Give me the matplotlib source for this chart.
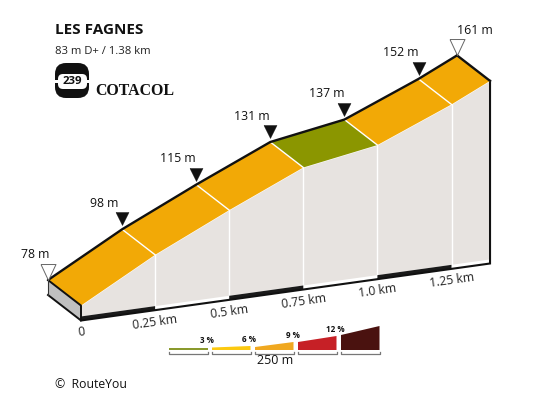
import matplotlib
matplotlib.use('Agg')
import matplotlib.pyplot as plt
from matplotlib.patches import FancyBboxPatch, Polygon
from matplotlib.transforms import Affine2D

# --- DATA ---
TITLE = 'LES FAGNES'
SUBTITLE = '83 m D+ / 1.38 km'
COL_NUMBER = '239'
distances = [0, 0.25, 0.5, 0.75, 1.0, 1.25, 1.38]
elevations = [78, 98, 115, 131, 137, 152, 161]
segment_classes = [2, 2, 2, 0, 2, 2]
tick_km = [0, 0.25, 0.5, 0.75, 1.0, 1.25]
tick_labels = ['0', '0.25 km', '0.5 km', '0.75 km', '1.0 km', '1.25 km']
legend_labels = ['3 %', '6 %', '9 %', '12 %', '']
legend_left = [2.5, 2.5, 3, 8, 15]
legend_right = [2.5, 4, 8, 14, 24]
legend_colors = ['#8a9a2d', '#fcc90f', '#f0a820', '#c62026', '#4a120f']
slope_colors = ['#8b9600', '#fcc90f', '#f2a906', '#c62026', '#4a120f']

# --- CONFIG ---
BASE_ELEV = 70.6
FONT = 'Open Sans'
WALL = '#e7e3e0'

fig = plt.figure(figsize=(5.5, 4), dpi=100)
ax = fig.add_axes([0, 0, 1, 1])
ax.set_xlim(0, 550)
ax.set_ylim(400, 0)
ax.axis('off')

# (km, m) -> pixels, oblique view. back = ridge side, front = wall side
project = Affine2D.from_values(296.4, -41.3, 0, -2.02, 48, 437.6)
back = project + ax.transData
front = project + Affine2D().translate(33, 25.5) + ax.transData
d_end = distances[-1]

# wall
wall_x = distances + [d_end, 0]
wall_y = elevations + [BASE_ELEV + 2, BASE_ELEV + 2]
ax.add_patch(Polygon(list(zip(wall_x, wall_y)), closed=True, fc=WALL, ec='none', transform=front, zorder=1))
for d, e in zip(distances[1:-1], elevations[1:-1]):
    ax.plot([d, d], [BASE_ELEV + 2, e], color='white', lw=1, transform=front, zorder=2)

# black stripes every second 250 m on the base
for i in range(0, len(tick_km), 2):
    d0 = tick_km[i]
    d1 = tick_km[i + 1] if i + 1 < len(tick_km) else d_end
    pts = [(d0, BASE_ELEV), (d1, BASE_ELEV), (d1, BASE_ELEV + 2), (d0, BASE_ELEV + 2)]
    ax.add_patch(Polygon(pts, closed=True, fc='#1a1a1a', ec='none', transform=front, zorder=2))
ax.plot([0, d_end, d_end], [BASE_ELEV, BASE_ELEV, elevations[-1]], color='#111111', lw=1.5,
        transform=front, zorder=3, solid_joinstyle='miter')

# top surface, one slab per segment
for i, cl in enumerate(segment_classes):
    p0 = back.transform((distances[i], elevations[i]))
    p1 = back.transform((distances[i + 1], elevations[i + 1]))
    p2 = front.transform((distances[i + 1], elevations[i + 1]))
    p3 = front.transform((distances[i], elevations[i]))
    ax.add_patch(Polygon([p0, p1, p2, p3], closed=True, fc=slope_colors[cl], ec='none',
                         transform=None, zorder=4))
    if i > 0:
        ax.plot([p0[0], p3[0]], [p0[1], p3[1]], color='white', lw=1, transform=None, zorder=5)
ax.plot(distances, elevations, color='white', lw=0.8, transform=front, zorder=3.5)

# left end of the block
e0 = elevations[0]
end_pts = [back.transform((0, e0)), front.transform((0, e0)), front.transform((0, BASE_ELEV)),
           back.transform((0, BASE_ELEV))]
ax.add_patch(Polygon(end_pts, closed=True, fc='#c0c0c0', ec='none', transform=None, zorder=5))
ax.plot([end_pts[3][0], end_pts[2][0], end_pts[1][0], end_pts[0][0]],
        [end_pts[3][1], end_pts[2][1], end_pts[1][1], end_pts[0][1]], color='#111111', lw=1.4,
        transform=None, zorder=6)
ax.plot([end_pts[0][0], end_pts[3][0]], [end_pts[0][1], end_pts[3][1]], color='#333333', lw=0.8,
        transform=None, zorder=6)

# ridge
ax.plot(distances, elevations, color='#111111', lw=1.7, transform=back, zorder=7, solid_capstyle='round')
p_top = back.transform((d_end, elevations[-1]))
p_low = front.transform((d_end, elevations[-1]))
ax.plot([p_top[0], p_low[0]], [p_top[1], p_low[1]], color='#111111', lw=1.7, transform=None, zorder=7)

# markers: hollow ones touch the ridge, black ones float a little above it
tri_end = [(-7.5, 16), (7.5, 16), (0, 0), (-7.5, 16)]
tri_mid = [(-6.5, 17), (6.5, 17), (0, 4), (-6.5, 17)]
for i, (d, e) in enumerate(zip(distances, elevations)):
    ends = i == 0 or i == len(distances) - 1
    if ends:
        ax.plot([d], [e], marker=tri_end, ms=23, mfc='white', mec='#666666', mew=0.7, ls='none',
                transform=back, zorder=8, clip_on=False)
    else:
        ax.plot([d], [e], marker=tri_mid, ms=24.5, mfc='#111111', mec='#111111', mew=0.3, ls='none',
                transform=back, zorder=8, clip_on=False)
    if i == 0:
        off = (-13, 26)
    elif i == len(distances) - 1:
        off = (18, 25)
    else:
        off = (-18, 26)
    ax.annotate(f'{e} m', (d, e), xycoords=back, xytext=off, textcoords='offset pixels', ha='center', va='center',
                fontsize=8.8, family=FONT, color='#111111', zorder=9)

# distance labels
for d, lab in zip(tick_km, tick_labels):
    ax.annotate(lab, (d, BASE_ELEV), xycoords=front, xytext=(0, -12), textcoords='offset pixels', ha='center',
                va='center', rotation=8, rotation_mode='anchor', fontsize=8.8, family=FONT, color='#222222')

# header
ax.text(55, 30, TITLE, fontsize=11, fontweight='bold', family=FONT, color='#111111', va='center')
ax.text(55, 52, SUBTITLE, fontsize=8.1, family=FONT, color='#222222', va='center')
ax.add_patch(FancyBboxPatch((55, 63), 34, 35, boxstyle='round,pad=0,rounding_size=11', fc='#111111', ec='none', zorder=2))
ax.add_patch(FancyBboxPatch((54, 79.5), 36, 3, boxstyle='square,pad=0', fc='white', ec='none', zorder=3))
ax.add_patch(FancyBboxPatch((58, 74), 29, 15, boxstyle='round,pad=0,rounding_size=5', fc='white', ec='none', zorder=4))
ax.text(72, 81.5, COL_NUMBER, fontsize=8.2, fontweight='bold', family=FONT, color='#111111', ha='center',
        va='center', zorder=5)
ax.text(95, 91, 'COTACOL', fontsize=11.4, fontweight='bold', family='Liberation Serif', color='#111111', va='center')

# slope legend
for i, col in enumerate(legend_colors):
    x0 = 169 + 43 * i
    x1 = x0 + 38.5
    ax.add_patch(Polygon([(x0, 350), (x1, 350), (x1, 350 - legend_right[i]), (x0, 350 - legend_left[i])],
                         closed=True, fc=col, ec='none'))
    ax.plot([x0, x0, x1, x1], [352, 353.5, 353.5, 352], color='#777777', lw=0.9)
    if legend_labels[i]:
        ax.text(x1 - 1, 350 - legend_right[i] - 7, legend_labels[i], fontsize=5.8, fontweight='bold', family=FONT,
                color='#111111', ha='center', va='center')
ax.text(275, 360, '250 m', fontsize=9, family=FONT, color='#111111', ha='center', va='center')

ax.text(55, 384, '©  RouteYou', fontsize=8.8, family=FONT, color='#111111', va='center')

fig.savefig('out.png', dpi=100)
